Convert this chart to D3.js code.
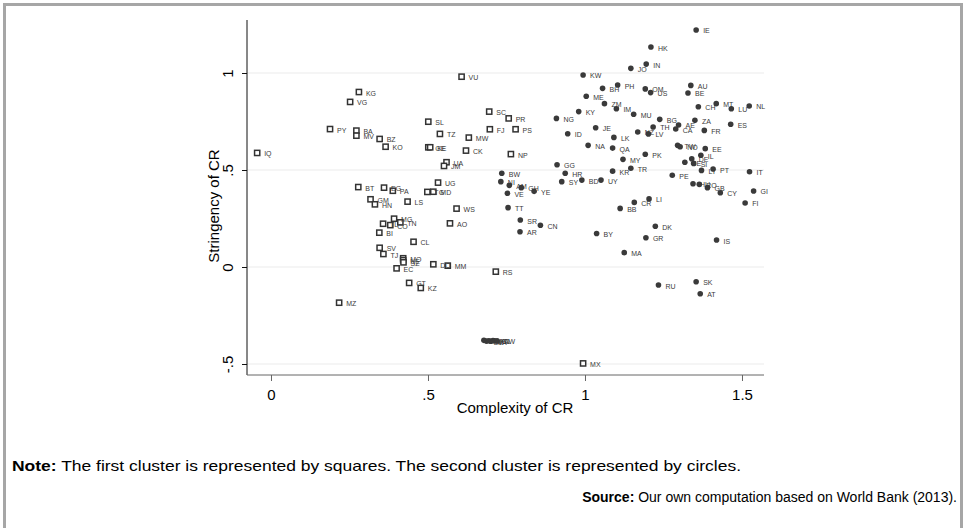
<!DOCTYPE html>
<html>
<head>
<meta charset="utf-8">
<script src="https://cdn.jsdelivr.net/npm/d3@7"></script>
<style>
  body { margin: 0; background: #fff; }
  svg { display: block; }
</style>
</head>
<body>
<svg width="966" height="528"></svg>
<script>
// cluster 1 (squares)
const squareCodes = ['KG','VG','PY','BA','MV','BZ','KO','IQ','SL','GE','KE','VU','SC','PR','FJ','PS','TZ','MW','CK','NP','UA','JM',
  'BT','EG','PA','GM','HN','LS','UG','TG','MD','MG','TN','TL','CO','BI','WS','AO','CL','SV','TJ','MO','NE','SZ','EC','DO','MM','RS','GT','KZ','MZ','MX'];
const squareX = [0.280,0.252,0.188,0.272,0.272,0.346,0.365,-0.044,0.501,0.501,0.507,0.607,0.695,0.757,0.697,0.779,0.538,0.630,0.621,0.764,0.559,0.551,
  0.278,0.360,0.388,0.317,0.331,0.435,0.532,0.498,0.517,0.392,0.412,0.357,0.380,0.345,0.591,0.570,0.454,0.346,0.358,0.421,0.421,0.422,0.400,0.517,0.563,0.716,0.440,0.477,0.217,0.994];
const squareY = [0.902,0.851,0.711,0.703,0.677,0.660,0.620,0.588,0.749,0.617,0.617,0.981,0.801,0.766,0.710,0.710,0.686,0.667,0.600,0.582,0.540,0.521,
  0.412,0.409,0.393,0.349,0.323,0.337,0.435,0.387,0.388,0.249,0.230,0.223,0.216,0.177,0.301,0.225,0.130,0.099,0.067,0.045,0.035,0.024,-0.007,0.014,0.007,-0.024,-0.082,-0.108,-0.184,-0.497];

// cluster 2 (circles)
const circleCodes = ['IE','HK','IN','JO','KW','PH','BH','OM','US','AU','BE','ME','ZM','IM','CH','MT','LU','NL','KY','MU','NG','BG','ZA','ES',
  'JE','TH','AE','CA','FR','NZ','LV','ID','LK','NA','QA','TW','NO','EE','PK','IL','DE','SE','SI','MY','GG','LT','PT','IT','KR','TR','BW','HR','PE',
  'NI','SY','BD','UY','AM','HU','RO','GH','GB','YE','GI','CY','VE','FI','TT','CR','LI','BB','SR','CN','AR','BY','DK','GR','IS','MA','SK','RU','AT',
  'AD','SM','MC','VA','FO','GL','AW'];
const circleX = [1.354,1.210,1.195,1.146,0.994,1.104,1.056,1.192,1.209,1.337,1.328,1.004,1.062,1.100,1.361,1.418,1.466,1.523,0.980,1.155,0.909,1.238,1.350,1.464,
  1.034,1.217,1.298,1.289,1.380,1.168,1.202,0.945,1.092,1.010,1.088,1.295,1.303,1.383,1.192,1.369,1.340,1.318,1.346,1.121,0.911,1.371,1.408,1.524,1.088,1.146,0.735,0.937,1.278,
  0.732,0.926,0.990,1.051,0.759,1.344,1.364,0.797,1.390,0.838,1.537,1.431,0.753,1.510,0.755,1.157,1.204,1.112,0.794,0.858,0.793,1.037,1.224,1.194,1.419,1.125,1.354,1.234,1.367,
  0.678,0.686,0.694,0.700,0.707,0.712,0.720];
const circleY = [1.222,1.134,1.046,1.024,0.990,0.938,0.921,0.918,0.899,0.936,0.897,0.880,0.842,0.816,0.826,0.842,0.816,0.830,0.801,0.787,0.766,0.761,0.756,0.736,
  0.718,0.722,0.732,0.711,0.704,0.696,0.686,0.687,0.668,0.627,0.613,0.627,0.620,0.610,0.581,0.576,0.558,0.540,0.534,0.555,0.527,0.498,0.505,0.491,0.494,0.509,0.483,0.483,0.473,
  0.440,0.440,0.448,0.448,0.421,0.429,0.426,0.409,0.409,0.390,0.392,0.383,0.380,0.330,0.306,0.333,0.351,0.302,0.242,0.215,0.182,0.173,0.210,0.151,0.139,0.074,-0.076,-0.093,-0.138,
  -0.378,-0.382,-0.380,-0.383,-0.379,-0.381,-0.380];

const xTicks = [0, 0.5, 1, 1.5];
const yTicks = [-0.5, 0, 0.5, 1];
const tickText = v => v === 0 ? '0' : String(v).replace(/^(-?)0\./, '$1.');

const svg = d3.select('svg');
const font = '"Liberation Sans", Arial, sans-serif';

// outer frame
svg.append('rect')
    .attr('x', 4.5).attr('y', 4.5)
    .attr('width', 957).attr('height', 540)
    .attr('fill', 'none')
    .attr('stroke', '#a6a6a6')
    .attr('stroke-width', 3)

const plotLeft = 247, plotRight = 764, plotTop = 20, plotBottom = 375;

const x = d3.scaleLinear().domain([-0.0764, 1.5701]).range([plotLeft, plotRight]);
const y = d3.scaleLinear().domain([-0.5567, 1.2732]).range([plotBottom, plotTop]);

// grid
svg.append('g')
  .selectAll('line')
  .data(yTicks)
  .join('line')
    .attr('x1', plotLeft).attr('x2', plotRight)
    .attr('y1', d => y(d)).attr('y2', d => y(d))
    .attr('stroke', '#ececec')
    .attr('stroke-width', 1.2)

// y axis
const yAxis = svg.append('g')
    .attr('transform', `translate(${plotLeft},0)`)
    .call(d3.axisLeft(y).tickValues(yTicks).tickSize(5).tickFormat(tickText))
yAxis.select('.domain').attr('stroke', '#111').attr('d', `M0,${plotTop}V${plotBottom}`)
yAxis.selectAll('.tick line').attr('stroke', '#111')
yAxis.selectAll('.tick text')
    .attr('font-family', font).attr('font-size', 15).attr('fill', '#000')
    .attr('x', null).attr('dy', null)
    .attr('text-anchor', 'middle')
    .attr('transform', 'translate(-14,0) rotate(-90)')

// x axis
const xAxis = svg.append('g')
    .attr('transform', `translate(0,${plotBottom})`)
    .call(d3.axisBottom(x).tickValues(xTicks).tickSize(6).tickFormat(tickText))
xAxis.select('.domain').attr('stroke', '#666').attr('d', `M${plotLeft},0H${plotRight}`)
xAxis.selectAll('.tick line').attr('stroke', '#666')
xAxis.selectAll('.tick text')
    .attr('font-family', font).attr('font-size', 15).attr('fill', '#000')
    .attr('y', 25).attr('dy', null)

// axis titles
svg.append('text')
    .attr('x', 515).attr('y', 413)
    .attr('text-anchor', 'middle')
    .attr('font-family', font).attr('font-size', 15)
    .text('Complexity of CR')

svg.append('text')
    .attr('transform', 'translate(219,206) rotate(-90)')
    .attr('text-anchor', 'middle')
    .attr('font-family', font).attr('font-size', 15)
    .text('Stringency of CR')

// points
const squares = squareCodes.map((c, i) => ({ code: c, x: squareX[i], y: squareY[i] }));
const circles = circleCodes.map((c, i) => ({ code: c, x: circleX[i], y: circleY[i] }));

const pts = svg.append('g');

pts.selectAll('rect.sq')
  .data(squares)
  .join('rect')
    .attr('class', 'sq')
    .attr('x', d => x(d.x) - 2.6)
    .attr('y', d => y(d.y) - 2.6)
    .attr('width', 5.2).attr('height', 5.2)
    .attr('fill', '#fff')
    .attr('stroke', '#333')
    .attr('stroke-width', 1.5)

pts.selectAll('circle')
  .data(circles)
  .join('circle')
    .attr('cx', d => x(d.x))
    .attr('cy', d => y(d.y))
    .attr('r', 2.8)
    .attr('fill', '#3a3a3a')

// marker labels
pts.selectAll('text')
  .data(squares.concat(circles))
  .join('text')
    .attr('x', d => x(d.x) + 7)
    .attr('y', d => y(d.y) + 3.5)
    .attr('font-family', font)
    .attr('font-size', 7)
    .attr('fill', '#3a3a3a')
    .text(d => d.code)

// note and source
const note = svg.append('text')
    .attr('x', 12).attr('y', 471)
    .attr('font-family', font)
    .attr('font-size', 15)
    .attr('textLength', 729)
    .attr('lengthAdjust', 'spacingAndGlyphs')
note.append('tspan').attr('font-weight', 'bold').text('Note:')
note.append('tspan').text(' The first cluster is represented by squares. The second cluster is represented by circles.')

const source = svg.append('text')
    .attr('x', 957).attr('y', 502)
    .attr('text-anchor', 'end')
    .attr('font-family', font)
    .attr('font-size', 14)
source.append('tspan').attr('font-weight', 'bold').text('Source:')
source.append('tspan').text(' Our own computation based on World Bank (2013).')
</script>
</body>
</html>
